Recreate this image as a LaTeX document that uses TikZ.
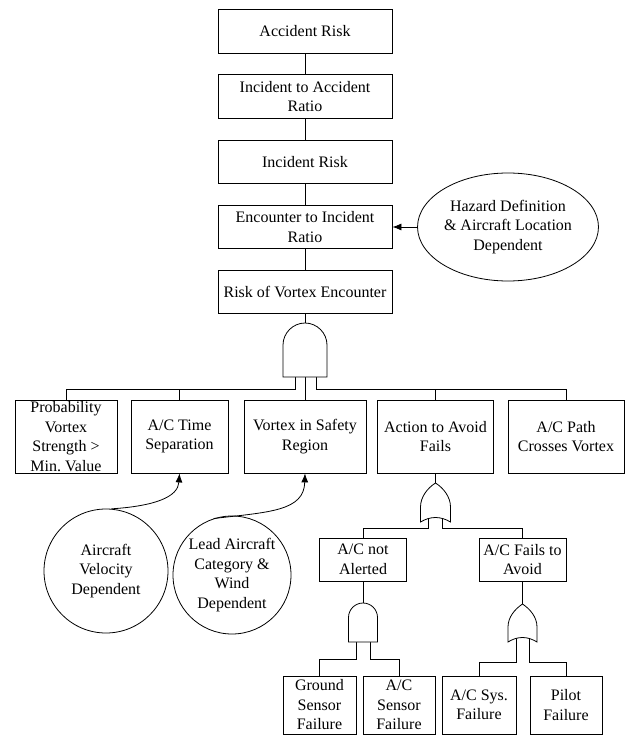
\documentclass[tikz,border=0pt]{standalone}
\usepackage{fontspec}
\setmainfont{Liberation Serif}
\usetikzlibrary{arrows.meta,shapes.geometric}
\newcommand\diagfont{\fontsize{16}{19.5}\selectfont}
\begin{document}
\begin{tikzpicture}[x=1pt,y=-1pt,
  every path/.style={line width=0.8pt},
  box/.style={draw, line width=0.8pt, inner sep=0pt, align=center, font=\diagfont},
  topbox/.style={box, minimum width=174pt, minimum height=43.5pt},
  rowbox/.style={box, minimum height=73pt},
  midbox/.style={box, minimum width=87pt, minimum height=43pt},
  lowbox/.style={box, minimum height=58pt},
  bubble/.style={draw, circle, line width=0.8pt, inner sep=0pt, align=center, font=\diagfont},
  gate/.style={draw, fill=white, line width=0.8pt},
  arr/.style={-{Latex[length=9pt,width=7pt]}}]
\useasboundingbox (0,0) rectangle (628,738);

% top chain
\node[topbox] (acc) at (305,31.5) {Accident Risk};
\node[topbox] (i2a) at (305,96.5) {Incident to Accident\\Ratio};
\node[topbox] (inc) at (305,162) {Incident Risk};
\node[topbox] (e2i) at (305,227) {Encounter to Incident\\Ratio};
\node[topbox] (rve) at (305,292) {Risk of Vortex Encounter};
\node[draw, ellipse, line width=0.8pt, inner sep=0pt, minimum width=164pt, minimum height=108pt, align=center, font=\diagfont] (haz) at (508,227) {Hazard Definition\\\& Aircraft Location\\Dependent};

\draw (acc) -- (i2a);
\draw (i2a) -- (inc);
\draw (inc) -- (e2i);
\draw (e2i) -- (rve);
\draw[arr] (haz) -- (e2i);

% row of basic events
\node[rowbox, minimum width=102pt] (b1) at (66,436.5) {Probability\\Vortex\\Strength >\\Min.\ Value};
\node[rowbox, minimum width=97pt] (b2) at (179.5,436.5) {A/C Time\\Separation};
\node[rowbox, minimum width=122pt] (b3) at (305,436.5) {Vortex in Safety\\Region};
\node[rowbox, minimum width=116pt] (b4) at (435.5,436.5) {Action to Avoid\\Fails};
\node[rowbox, minimum width=116pt] (b5) at (566,436.5) {A/C Path\\Crosses Vortex};

% main AND gate
\coordinate (g1top) at (305,323);
\coordinate (g1o1) at (295,370);
\coordinate (g1o2) at (305,370);
\coordinate (g1o3) at (316,370);
\coordinate (j1) at (295,389);
\coordinate (j2) at (316,389);
\draw (rve) -- (g1top);
\draw (g1o1) -- (j1) -| (b1);
\draw (b2) -- (b2 |- j1);
\draw (g1o2) -- (b3);
\draw (g1o3) -- (j2) -| (b5);
\draw (b4) -- (b4 |- j2);
\draw[gate] (283,377) -- (283,345) .. controls (283,333) and (293,323) .. (305,323)
  .. controls (317,323) and (327,333) .. (327,345) -- (327,377) -- cycle;

% OR gate under Action to Avoid Fails
\node[midbox] (nal) at (363,559.5) {A/C not\\Alerted};
\node[midbox] (fta) at (522.5,559.5) {A/C Fails to\\Avoid};
\coordinate (or1top) at (435.5,483);
\coordinate (or1i1) at (428.5,515);
\coordinate (or1i2) at (442.5,515);
\coordinate (j3) at (428.5,528);
\coordinate (j4) at (442.5,528);
\draw (b4) -- (or1top);
\draw (or1i1) -- (j3) -| (nal);
\draw (or1i2) -- (j4) -| (fta);
\draw[gate] (420.5,522) -- (420.5,507) .. controls (420.5,497) and (427.5,488) .. (435.5,483)
  .. controls (443.5,488) and (450.5,497) .. (450.5,507) -- (450.5,522)
  .. controls (440.5,516) and (430.5,516) .. (420.5,522) -- cycle;

% lower AND gate
\node[lowbox, minimum width=73pt] (gsf) at (319.5,705) {Ground\\Sensor\\Failure};
\node[lowbox, minimum width=72pt] (asf) at (399,705) {A/C\\Sensor\\Failure};
\coordinate (a2top) at (363,603);
\coordinate (a2o1) at (356.5,636);
\coordinate (a2o2) at (370,636);
\coordinate (j5) at (356.5,659);
\coordinate (j6) at (370,659);
\draw (nal) -- (a2top);
\draw (a2o1) -- (j5) -| (gsf);
\draw (a2o2) -- (j6) -| (asf);
\draw[gate] (348.5,642) -- (348.5,617.5) .. controls (348.5,609.5) and (355,603) .. (363,603)
  .. controls (371,603) and (377.5,609.5) .. (377.5,617.5) -- (377.5,642) -- cycle;

% lower OR gate
\node[lowbox, minimum width=74pt] (asys) at (479,705) {A/C Sys.\\Failure};
\node[lowbox, minimum width=72pt] (pf) at (566,705) {Pilot\\Failure};
\coordinate (or2top) at (522.5,604);
\coordinate (or2i1) at (516,634);
\coordinate (or2i2) at (529,634);
\coordinate (j7) at (516,662);
\coordinate (j8) at (529,662);
\draw (fta) -- (or2top);
\draw (or2i1) -- (j7) -| (asys);
\draw (or2i2) -- (j8) -| (pf);
\draw[gate] (508,642) -- (508,627) .. controls (508,617) and (515,609) .. (522.5,604)
  .. controls (530,609) and (537,617) .. (537,627) -- (537,642)
  .. controls (527.5,636) and (517.5,636) .. (508,642) -- cycle;

% dependency circles
\node[bubble, minimum size=124pt] (c1) at (106,571) {Aircraft\\Velocity\\Dependent};
\node[bubble, minimum size=118pt] (c2) at (232,575) {Lead Aircraft\\Category \&\\Wind\\Dependent};
\draw[arr] (c1.85) .. controls (155,506) and (178,497) .. (b2.south);
\draw[arr] (c2.108) .. controls (270,512) and (304,511) .. (b3.south);
\end{tikzpicture}
\end{document}
